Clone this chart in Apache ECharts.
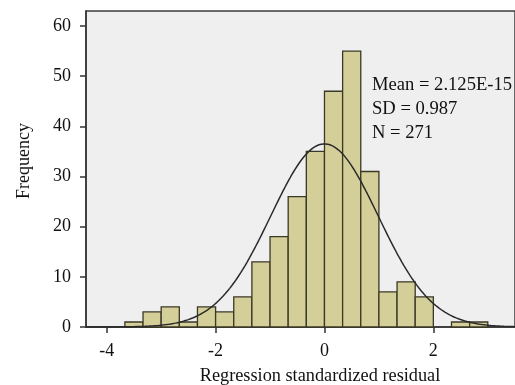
<!DOCTYPE html>
<html><head><meta charset="utf-8">
<script src="https://cdn.jsdelivr.net/npm/echarts@6/dist/echarts.min.js"></script>
<style>html,body{margin:0;padding:0;background:#fff}#c{width:515px;height:385px}</style>
</head><body><div id="c"></div>
<script>
// Histogram bins: left edge of first bin and bin width (in residual units)
const binStart = -11 / 3;
const binWidth = 1 / 3;
const counts = [1, 3, 4, 1, 4, 3, 6, 13, 18, 26, 35, 47, 55, 31, 7, 9, 6, 0, 1, 1];
// Fitted normal curve parameters (as printed on the chart)
const mean = 2.125e-15;
const sd = 0.987;
const n = 271;
const statLines = ['Mean = 2.125E-15', 'SD = 0.987', 'N = 271'];
const xTicks = [-4, -2, 0, 2];
const yTicks = [0, 10, 20, 30, 40, 50, 60];
const xMin = -4.381, xMax = 3.5, yMax = 63;

const barData = counts.map((c, i) => [binStart + i * binWidth, binStart + (i + 1) * binWidth, c]);
const curve = [];
for (let x = xMin; x <= xMax + 1e-9; x += 0.02) {
  const y = n * binWidth * Math.exp(-0.5 * Math.pow((x - mean) / sd, 2)) / (sd * Math.sqrt(2 * Math.PI));
  curve.push([x, y]);
}
const FONT = 'Liberation Serif';
const chart = echarts.init(document.getElementById('c'), null, {renderer: 'canvas'});
chart.setOption({
  animation: false,
  grid: {left: 86, top: 11, right: -11.5, bottom: 58, show: true, backgroundColor: '#efefef',
         borderColor: '#3c3c3c', borderWidth: 1.5},
  xAxis: {type: 'value', min: xMin, max: xMax,
    axisLine: {show: true, onZero: false, lineStyle: {color: '#333', width: 1.5}},
    axisTick: {show: true, length: 6, lineStyle: {color: '#333', width: 1.5}, customValues: xTicks},
    axisLabel: {customValues: xTicks, margin: 15, color: '#111', fontFamily: FONT, fontSize: 18},
    splitLine: {show: false}},
  yAxis: {type: 'value', min: 0, max: yMax,
    axisLine: {show: true, onZero: false, lineStyle: {color: '#333', width: 1.5}},
    axisTick: {show: true, length: 6, lineStyle: {color: '#333', width: 1.5}, customValues: yTicks},
    axisLabel: {customValues: yTicks, margin: 15, color: '#111', fontFamily: FONT, fontSize: 18},
    splitLine: {show: false}},
  series: [
    {type: 'custom', data: barData, z: 2,
      renderItem: function (params, api) {
        const c = api.value(2);
        if (!c) return null;
        const p0 = api.coord([api.value(0), 0]);
        const p1 = api.coord([api.value(1), c]);
        return {type: 'rect', shape: {x: p0[0], y: p1[1], width: p1[0] - p0[0], height: p0[1] - p1[1]},
          style: {fill: '#d4cf98', stroke: '#3a3826', lineWidth: 1.3}};
      }},
    {type: 'line', data: curve, showSymbol: false, smooth: false, z: 3,
      lineStyle: {color: '#2a2a2a', width: 1.5}}
  ],
  graphic: [
    {type: 'text', left: 372, top: 73, style: {text: statLines.join('\n'), fontFamily: FONT, fontSize: 18.6, lineHeight: 24, fill: '#111'}},
    {type: 'text', x: 320, y: 376, style: {text: 'Regression standardized residual', fontFamily: FONT, fontSize: 18.3, fill: '#111', align: 'center', verticalAlign: 'middle'}},
    {type: 'text', x: 24, y: 161, rotation: Math.PI / 2, style: {text: 'Frequency', fontFamily: FONT, fontSize: 18, fill: '#111', align: 'center', verticalAlign: 'middle'}}
  ]
});
</script></body></html>
